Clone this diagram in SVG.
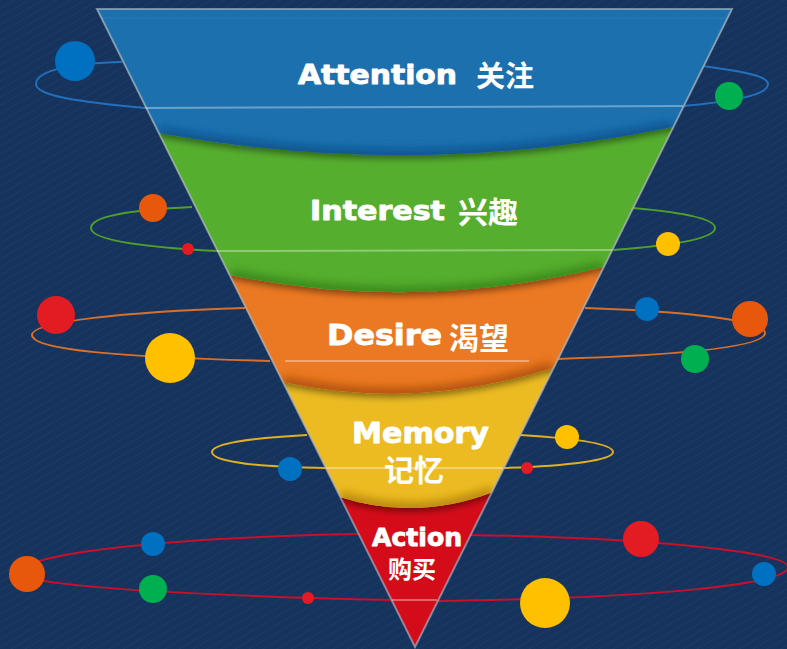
<svg xmlns="http://www.w3.org/2000/svg" width="787" height="649" viewBox="0 0 787 649">
<defs>
<style>
.en{font-family:"DejaVu Sans","Liberation Sans",sans-serif;font-weight:bold;fill:#fff;stroke:#fff;stroke-width:0.9;stroke-linejoin:round}
.zh{font-family:"Noto Sans CJK SC","Noto Sans",sans-serif;font-weight:bold;fill:#fff}
.orbit{fill:none;stroke-width:2}
.front{fill:none;stroke:#fff;stroke-opacity:0.35;stroke-width:2}
</style>
<pattern id="tex" width="7" height="7" patternUnits="userSpaceOnUse" patternTransform="rotate(60)">
<line x1="0" y1="0" x2="0" y2="7" stroke="#ffffff" stroke-opacity="0.03" stroke-width="2"/>
</pattern>
<clipPath id="funnel"><polygon points="97,9 732,9 415,647"/></clipPath>
<filter id="ds" filterUnits="userSpaceOnUse" x="0" y="0" width="787" height="649">
<feDropShadow dx="0" dy="4" stdDeviation="3" flood-color="#000" flood-opacity="0.4"/>
</filter>
<filter id="bl" filterUnits="userSpaceOnUse" x="0" y="0" width="787" height="649">
<feGaussianBlur stdDeviation="4"/>
</filter>
<path id="bBlue" d="M 60,0 H 780 V 127 H 673 Q 416,180 159,133 H 60 Z"/>
<path id="bGreen" d="M 60,0 H 780 V 267 H 603 Q 416,313 230,275 H 60 Z"/>
<path id="bOrange" d="M 60,0 H 780 V 368 H 553 Q 416,411 283,382 H 60 Z"/>
<path id="bYellow" d="M 60,0 H 780 V 492 H 493 Q 416,521.5 340,497 H 60 Z"/>
<clipPath id="cBlue"><use href="#bBlue"/></clipPath>
<clipPath id="cGreen"><use href="#bGreen"/></clipPath>
<clipPath id="cOrange"><use href="#bOrange"/></clipPath>
<clipPath id="cYellow"><use href="#bYellow"/></clipPath>
</defs>

<rect width="787" height="649" fill="#15335d"/>
<rect width="787" height="649" fill="url(#tex)"/>

<g id="orbits">
<g id="orbit-attention" class="orbit" stroke="#2370bd">
<path d="M 145,108 C 80,102 36,96 36,84 C 36,70 75,63 122,62"/>
<path d="M 703,66 C 745,72 768,76 768,84 C 768,94 740,101 683,106"/>
</g>
<g id="orbit-interest" class="orbit" stroke="#4f9f2a">
<path d="M 192,207 C 130,210 91,216 91,228 C 91,240 140,247 217,251"/>
<path d="M 633,208 C 690,213 715,220 715,228 C 715,238 680,245 613,250"/>
</g>
<g id="orbit-desire" class="orbit" stroke="#d8702a">
<path d="M 245,308 C 120,312 32,322 32,335 C 32,350 120,357 270,361"/>
<path d="M 585,308 C 680,311 765,320 765,333 C 765,347 680,355 557,359"/>
</g>
<g id="orbit-memory" class="orbit" stroke="#e0b020">
<path d="M 307,435 C 250,438 212,444 212,452 C 212,462 260,467 326,468"/>
<path d="M 520,435 C 585,439 613,445 613,452 C 613,460 570,466 503,468"/>
</g>
<g id="orbit-action" class="orbit" stroke="#c8102a">
<path d="M 358,534 C 150,538 20,555 20,573 C 20,582 120,594 392,600"/>
<path d="M 470,535 C 650,538 788,552 788,567 C 788,585 650,598 437,601"/>
</g>
</g>

<g id="funnel-bands" clip-path="url(#funnel)">
<g id="action">
<rect x="60" y="0" width="720" height="649" fill="#d40c19"/>
</g>
<g id="memory">
<use href="#bYellow" fill="#ecbb24" filter="url(#ds)"/>
<g clip-path="url(#cYellow)"><path d="M 340,497 Q 416,521.5 493,492" fill="none" stroke="#b98a10" stroke-width="12" filter="url(#bl)"/></g>
</g>
<g id="desire">
<use href="#bOrange" fill="#eb7823" filter="url(#ds)"/>
<g clip-path="url(#cOrange)"><path d="M 283,382 Q 416,411 553,368" fill="none" stroke="#b2520f" stroke-width="12" filter="url(#bl)"/></g>
</g>
<g id="interest">
<use href="#bGreen" fill="#57ae2e" filter="url(#ds)"/>
<g clip-path="url(#cGreen)"><path d="M 230,275 Q 416,313 603,267" fill="none" stroke="#3a8a1c" stroke-width="12" filter="url(#bl)"/></g>
</g>
<g id="attention">
<use href="#bBlue" fill="#1b6fae" filter="url(#ds)"/>
<g clip-path="url(#cBlue)"><path d="M 159,133 Q 416,180 673,127" fill="none" stroke="#0f5590" stroke-width="12" filter="url(#bl)"/></g>
<line x1="97" y1="18" x2="732" y2="18" stroke="#3a86c0" stroke-opacity="0.5" stroke-width="1"/>
</g>
</g>
<polygon points="97,9 732,9 415,647" fill="none" stroke="#a9b8c9" stroke-opacity="0.65" stroke-width="2"/>

<g id="front-lines">
<path class="front" d="M 145,108 L 683,106"/>
<path class="front" d="M 217,251 L 612,250"/>
<path class="front" d="M 285,361 L 529,361"/>
<path class="front" d="M 326,468 L 503,468"/>
<path class="front" d="M 392,600 L 437,600"/>
</g>

<g id="labels">
<text class="en" x="298" y="84" font-size="27" textLength="159" lengthAdjust="spacingAndGlyphs">Attention</text>
<text class="zh" x="476" y="87" font-size="29">关注</text>
<text class="en" x="310" y="220" font-size="26" textLength="135" lengthAdjust="spacingAndGlyphs">Interest</text>
<text class="zh" x="458" y="223" font-size="30">兴趣</text>
<text class="en" x="327" y="345" font-size="28" textLength="115" lengthAdjust="spacingAndGlyphs">Desire</text>
<text class="zh" x="449" y="349" font-size="30">渴望</text>
<text class="en" x="352" y="443" font-size="29" textLength="137" lengthAdjust="spacingAndGlyphs">Memory</text>
<text class="zh" x="384" y="481" font-size="30">记忆</text>
<text class="en" x="372" y="546" font-size="25" textLength="90" lengthAdjust="spacingAndGlyphs">Action</text>
<text class="zh" x="388" y="578" font-size="24">购买</text>
</g>

<g id="dots">
<circle cx="75" cy="61" r="20" fill="#0070c0"/>
<circle cx="729" cy="96" r="14" fill="#00b050"/>
<circle cx="153" cy="208" r="14" fill="#e8580c"/>
<circle cx="188" cy="249" r="6" fill="#e31b23"/>
<circle cx="668" cy="244" r="12" fill="#ffc000"/>
<circle cx="56" cy="315" r="19" fill="#e31b23"/>
<circle cx="170" cy="358" r="25" fill="#ffc000"/>
<circle cx="647" cy="309" r="12" fill="#0070c0"/>
<circle cx="750" cy="319" r="18" fill="#e8580c"/>
<circle cx="695" cy="359" r="14" fill="#00b050"/>
<circle cx="290" cy="469" r="12" fill="#0070c0"/>
<circle cx="567" cy="437" r="12" fill="#ffc000"/>
<circle cx="527" cy="468" r="6" fill="#e31b23"/>
<circle cx="153" cy="544" r="12" fill="#0070c0"/>
<circle cx="27" cy="574" r="18" fill="#e8580c"/>
<circle cx="153" cy="589" r="14" fill="#00b050"/>
<circle cx="308" cy="598" r="6" fill="#e31b23"/>
<circle cx="545" cy="603" r="25" fill="#ffc000"/>
<circle cx="764" cy="574" r="12" fill="#0070c0"/>
<circle cx="641" cy="539" r="18" fill="#e31b23"/>
</g>
</svg>
